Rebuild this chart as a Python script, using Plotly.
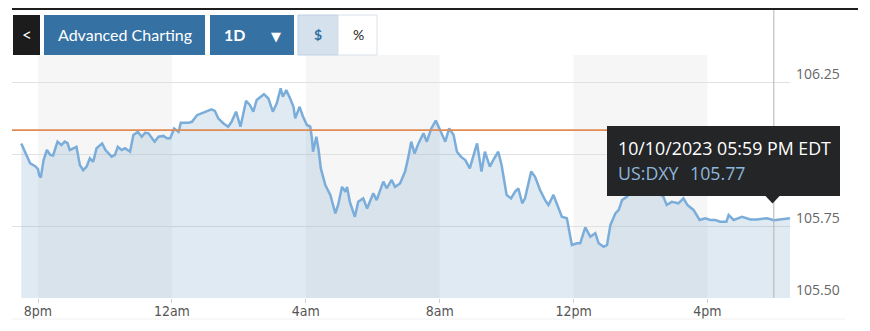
import plotly.graph_objects as go
import pandas as pd

# ---------------- data ----------------
times = [
    "2023-10-09 19:30", "2023-10-09 19:37", "2023-10-09 19:46", "2023-10-09 19:55", "2023-10-09 20:00",
    "2023-10-09 20:02", "2023-10-09 20:05", "2023-10-09 20:10", "2023-10-09 20:16", "2023-10-09 20:22",
    "2023-10-09 20:27", "2023-10-09 20:35", "2023-10-09 20:42", "2023-10-09 20:48", "2023-10-09 20:53",
    "2023-10-09 20:57", "2023-10-09 21:03", "2023-10-09 21:09", "2023-10-09 21:15", "2023-10-09 21:21",
    "2023-10-09 21:27", "2023-10-09 21:33", "2023-10-09 21:39", "2023-10-09 21:45", "2023-10-09 21:55",
    "2023-10-09 22:01", "2023-10-09 22:12", "2023-10-09 22:18", "2023-10-09 22:23", "2023-10-09 22:30",
    "2023-10-09 22:36", "2023-10-09 22:45", "2023-10-09 22:51", "2023-10-09 22:59", "2023-10-09 23:06",
    "2023-10-09 23:12", "2023-10-09 23:18", "2023-10-09 23:29", "2023-10-09 23:36", "2023-10-09 23:45",
    "2023-10-09 23:51", "2023-10-09 23:57", "2023-10-10 00:04", "2023-10-10 00:12", "2023-10-10 00:16",
    "2023-10-10 00:30", "2023-10-10 00:36", "2023-10-10 00:45", "2023-10-10 00:53", "2023-10-10 01:02",
    "2023-10-10 01:11", "2023-10-10 01:17", "2023-10-10 01:23", "2023-10-10 01:32", "2023-10-10 01:41",
    "2023-10-10 01:47", "2023-10-10 01:55", "2023-10-10 02:03", "2023-10-10 02:08", "2023-10-10 02:13",
    "2023-10-10 02:20", "2023-10-10 02:26", "2023-10-10 02:32", "2023-10-10 02:39", "2023-10-10 02:45",
    "2023-10-10 02:53", "2023-10-10 03:01", "2023-10-10 03:08", "2023-10-10 03:15", "2023-10-10 03:19",
    "2023-10-10 03:25", "2023-10-10 03:32", "2023-10-10 03:38", "2023-10-10 03:41", "2023-10-10 03:49",
    "2023-10-10 03:55", "2023-10-10 04:02", "2023-10-10 04:08", "2023-10-10 04:11", "2023-10-10 04:13",
    "2023-10-10 04:19", "2023-10-10 04:23", "2023-10-10 04:27", "2023-10-10 04:35", "2023-10-10 04:44",
    "2023-10-10 04:53", "2023-10-10 04:58", "2023-10-10 05:05", "2023-10-10 05:11", "2023-10-10 05:14",
    "2023-10-10 05:19", "2023-10-10 05:28", "2023-10-10 05:34", "2023-10-10 05:43", "2023-10-10 05:50",
    "2023-10-10 06:01", "2023-10-10 06:07", "2023-10-10 06:19", "2023-10-10 06:25", "2023-10-10 06:34",
    "2023-10-10 06:40", "2023-10-10 06:49", "2023-10-10 06:58", "2023-10-10 07:04", "2023-10-10 07:09",
    "2023-10-10 07:15", "2023-10-10 07:22", "2023-10-10 07:31", "2023-10-10 07:37", "2023-10-10 07:45",
    "2023-10-10 07:53", "2023-10-10 08:01", "2023-10-10 08:10", "2023-10-10 08:17", "2023-10-10 08:25",
    "2023-10-10 08:31", "2023-10-10 08:38", "2023-10-10 08:46", "2023-10-10 08:54", "2023-10-10 09:07",
    "2023-10-10 09:15", "2023-10-10 09:21", "2023-10-10 09:30", "2023-10-10 09:36", "2023-10-10 09:45",
    "2023-10-10 09:51", "2023-10-10 10:00", "2023-10-10 10:08", "2023-10-10 10:15", "2023-10-10 10:21",
    "2023-10-10 10:28", "2023-10-10 10:33", "2023-10-10 10:44", "2023-10-10 10:51", "2023-10-10 11:00",
    "2023-10-10 11:09", "2023-10-10 11:15", "2023-10-10 11:24", "2023-10-10 11:32", "2023-10-10 11:39",
    "2023-10-10 11:48", "2023-10-10 11:57", "2023-10-10 12:06", "2023-10-10 12:12", "2023-10-10 12:21",
    "2023-10-10 12:30", "2023-10-10 12:39", "2023-10-10 12:45", "2023-10-10 12:54", "2023-10-10 13:00",
    "2023-10-10 13:06", "2023-10-10 13:15", "2023-10-10 13:21", "2023-10-10 13:27", "2023-10-10 13:36",
    "2023-10-10 13:47", "2023-10-10 14:00", "2023-10-10 14:12", "2023-10-10 14:26", "2023-10-10 14:41",
    "2023-10-10 14:47", "2023-10-10 14:56", "2023-10-10 15:08", "2023-10-10 15:17", "2023-10-10 15:24",
    "2023-10-10 15:35", "2023-10-10 15:46", "2023-10-10 15:56", "2023-10-10 16:05", "2023-10-10 16:14",
    "2023-10-10 16:23", "2023-10-10 16:34", "2023-10-10 16:38", "2023-10-10 16:47", "2023-10-10 17:02",
    "2023-10-10 17:17", "2023-10-10 17:29", "2023-10-10 17:47", "2023-10-10 17:59", "2023-10-10 18:28",
]
values = [
    106.037, 106.008, 105.968, 105.958, 105.948,
    105.927, 105.918, 105.979, 106.014, 105.997,
    105.995, 106.043, 106.031, 106.043, 106.038,
    106.014, 106.021, 106.025, 105.962, 105.944,
    105.956, 105.985, 105.973, 106.020, 106.037,
    106.014, 105.991, 105.997, 106.025, 106.014,
    106.020, 106.008, 106.066, 106.077, 106.060,
    106.074, 106.072, 106.043, 106.060, 106.063,
    106.055, 106.055, 106.089, 106.077, 106.109,
    106.109, 106.112, 106.135, 106.141, 106.147,
    106.155, 106.150, 106.124, 106.107, 106.095,
    106.112, 106.147, 106.095, 106.141, 106.185,
    106.170, 106.147, 106.188, 106.199, 106.208,
    106.193, 106.147, 106.176, 106.228, 106.199,
    106.222, 106.193, 106.164, 106.124, 106.164,
    106.130, 106.101, 106.095, 106.055, 106.008,
    106.060, 106.014, 105.950, 105.892, 105.858,
    105.794, 105.823, 105.886, 105.869, 105.886,
    105.834, 105.782, 105.834, 105.846, 105.811,
    105.864, 105.840, 105.904, 105.881, 105.910,
    105.886, 105.898, 105.939, 105.991, 106.043,
    106.002, 106.037, 106.072, 106.043, 106.089,
    106.116, 106.083, 106.043, 106.089, 106.066,
    106.008, 105.991, 105.979, 105.950, 106.037,
    105.939, 106.008, 105.956, 105.979, 106.008,
    105.962, 105.858, 105.846, 105.869, 105.881,
    105.829, 105.846, 105.939, 105.921, 105.875,
    105.840, 105.823, 105.858, 105.817, 105.782,
    105.777, 105.684, 105.690, 105.690, 105.745,
    105.713, 105.725, 105.690, 105.678, 105.684,
    105.753, 105.794, 105.806, 105.840, 105.852,
    105.882, 105.868, 105.889, 105.875, 105.852,
    105.823, 105.834, 105.829, 105.846, 105.823,
    105.806, 105.771, 105.777, 105.771, 105.771,
    105.765, 105.765, 105.788, 105.771, 105.782,
    105.773, 105.773, 105.777, 105.770, 105.777,
]

prev_close = 106.083
symbol = "US:DXY"
cursor_time = "2023-10-10 17:59"
cursor_value = 105.77

tick_times = ["2023-10-09 20:00", "2023-10-10 00:00", "2023-10-10 04:00",
              "2023-10-10 08:00", "2023-10-10 12:00", "2023-10-10 16:00"]
tick_labels = ["8pm", "12am", "4am", "8am", "12pm", "4pm"]

band_starts = ["2023-10-09 20:00", "2023-10-10 04:00", "2023-10-10 12:00"]
band_ends = ["2023-10-10 00:00", "2023-10-10 08:00", "2023-10-10 16:00"]

x_range = ["2023-10-09 19:13:24", "2023-10-10 18:28"]
y_ticks = [105.50, 105.75, 106.00, 106.25]
# the 106.00 label sits under the tooltip in the reference
y_tick_labels = ["105.50", "105.75", "", "106.25"]
y_range = [105.50, 106.344]

buttons = ["<", "Advanced Charting", "1D", "$", "%"]

# ---------------- layout helpers (page pixel coordinates) ----------------
PAGE_W, PAGE_H = 870, 331
OFF = 8  # default body margin of the page
PL, PR, PT, PB = 12, 790, 55, 298


def px(x):
    return (x - PL) / (PR - PL)


def py(y):
    return (PB - y) / (PB - PT)


t0 = pd.Timestamp(x_range[0])
t1 = pd.Timestamp(x_range[1])


def tx(t):
    return (pd.Timestamp(t) - t0) / (t1 - t0)


BLUE = "#3571a3"
LINE = "#7badda"

fig = go.Figure()
fig.add_trace(go.Scatter(
    x=pd.to_datetime(times), y=values, mode="lines",
    line=dict(color=LINE, width=2.5),
    fill="tozeroy", fillcolor="rgba(130,170,205,0.25)",
    hoverinfo="skip", showlegend=False,
))

shapes = []
for s, e in zip(band_starts, band_ends):
    shapes.append(dict(type="rect", xref="x", yref="paper", x0=s, x1=e, y0=0, y1=1,
                       fillcolor="#f6f6f6", line=dict(width=0), layer="below"))
shapes.append(dict(type="line", xref="paper", yref="y", x0=0, x1=1, y0=prev_close, y1=prev_close,
                   line=dict(color="#e08a55", width=1.6), layer="above"))
cx = tx(cursor_time)
shapes.append(dict(type="line", xref="paper", yref="paper", x0=cx, x1=cx, y0=0, y1=py(10),
                   line=dict(color="#b4b4b4", width=1), layer="above"))
shapes.append(dict(type="line", xref="paper", yref="paper", x0=px(12), x1=px(858), y0=py(9), y1=py(9),
                   line=dict(color="#1e1e1e", width=2)))
shapes.append(dict(type="line", xref="paper", yref="paper", x0=px(12), x1=px(845), y0=py(319), y1=py(319),
                   line=dict(color="#f0f0f0", width=1)))


def box(x0, x1, y0, y1, fill, border=None):
    shapes.append(dict(type="rect", xref="paper", yref="paper", x0=px(x0), x1=px(x1), y0=py(y1), y1=py(y0),
                       fillcolor=fill, line=dict(color=border or fill, width=1 if border else 0)))


box(13, 40, 15, 55, "#1c1c1c")
box(44, 205, 15, 55, BLUE)
box(210, 294, 15, 55, BLUE)
box(298, 338, 15, 55, "#d5e2ee", "#bfd0e0")
box(338, 377, 15, 55, "#ffffff", "#d9e2ea")

box(607, 840, 126, 196, "#242527")
shapes.append(dict(type="path", xref="paper", yref="paper",
                   path=f"M {px(765)} {py(195.5)} L {px(780)} {py(195.5)} L {px(772.5)} {py(203.5)} Z",
                   fillcolor="#242527", line=dict(width=0)))

ann = []


def text(x, y, s, size, color, family="Lato", anchor="center", bold=False):
    if bold:
        s = f"<b>{s}</b>"
    ann.append(dict(xref="paper", yref="paper", x=px(x), y=py(y), text=s, showarrow=False,
                    xanchor=anchor, yanchor="middle", font=dict(size=size, color=color, family=family)))


text(26.7, 34, buttons[0], 17, "#ffffff")
text(124.5, 35, buttons[1], 16, "#ffffff")
text(234, 35, buttons[2], 16, "#ffffff", bold=True)
text(275.5, 36, "▼", 13, "#ffffff", family="DejaVu Sans")
text(318, 34, buttons[3], 14, BLUE, bold=True)
text(358, 34, buttons[4], 14, "#222222")

ct = pd.Timestamp(cursor_time)
tip1 = ct.strftime("%m/%d/%Y %I:%M %p") + " EDT"
text(616, 148, tip1, 17.8, "#ffffff", family="Open Sans", anchor="left")
text(616, 173, symbol, 17.8, "#8db6dc", family="Open Sans", anchor="left")
text(688, 173, f"{cursor_value:.2f}", 17.8, "#8db6dc", family="Open Sans", anchor="left")

fig.update_layout(
    width=PAGE_W - OFF, height=PAGE_H - OFF, autosize=False,
    margin=dict(l=PL - OFF, r=PAGE_W - PR, t=PT - OFF, b=PAGE_H - PB, pad=0),
    paper_bgcolor="#ffffff", plot_bgcolor="#ffffff",
    shapes=shapes, annotations=ann, showlegend=False,
    xaxis=dict(type="date", range=x_range, tickvals=tick_times, ticktext=tick_labels,
               showgrid=False, zeroline=False, showline=False,
               ticks="outside", ticklen=4, tickcolor="#d0d0d0", ticklabelstandoff=-4,
               tickfont=dict(family="Liberation Sans Narrow, DejaVu Sans Condensed, Roboto", size=14,
                             color="#555555"),
               fixedrange=True),
    yaxis=dict(range=y_range, tickvals=y_ticks, ticktext=y_tick_labels, side="right",
               showgrid=True, gridcolor="#e1e1e1", gridwidth=1, zeroline=False, showline=False,
               ticks="", ticklabelstandoff=5, ticklabelshift=-8,
               tickfont=dict(family="Open Sans", size=14, color="#666666"),
               fixedrange=True),
)

fig.write_html("out.html", config={"displayModeBar": False})
